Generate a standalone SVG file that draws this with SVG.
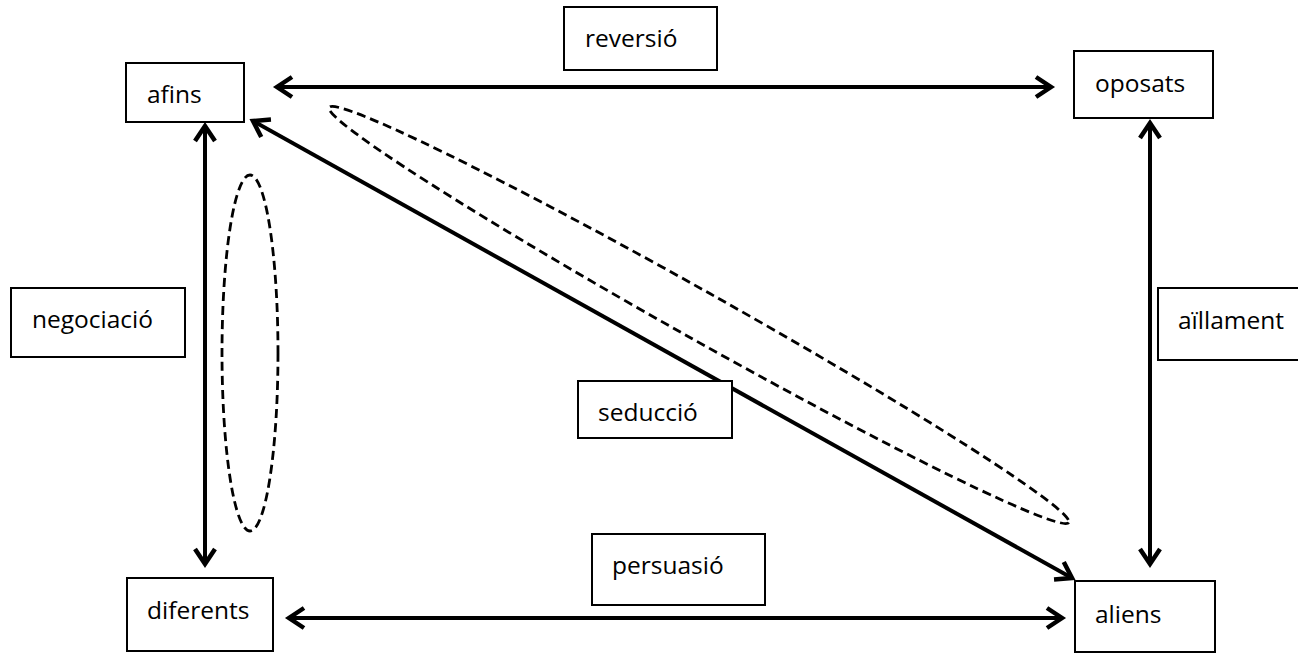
<svg xmlns="http://www.w3.org/2000/svg" width="1298" height="653" viewBox="0 0 1298 653">
<style>
.box{fill:#fff;stroke:#000;stroke-width:2}
.lbl{font-family:"Open Sans","Liberation Sans",sans-serif;font-size:24.5px;fill:#000}
.arr{stroke:#000;stroke-width:4;fill:none}
.dash{stroke:#000;stroke-width:2.8;fill:none;stroke-dasharray:9 5}
</style>
<defs>
<marker id="ah" markerUnits="userSpaceOnUse" markerWidth="30" markerHeight="30" refX="0" refY="0" orient="auto-start-reverse" overflow="visible">
<path d="M-15,-10 L0,0 L-15,10" fill="none" stroke="#000" stroke-width="4.5" stroke-linejoin="miter"/>
</marker>
</defs>
<rect width="1298" height="653" fill="#fff"/>
<g id="connectors">
<line class="arr" x1="277" y1="87" x2="1051" y2="87" marker-start="url(#ah)" marker-end="url(#ah)"/>
<line class="arr" x1="289" y1="618" x2="1062" y2="618" marker-start="url(#ah)" marker-end="url(#ah)"/>
<line class="arr" x1="205" y1="126" x2="205" y2="564" marker-start="url(#ah)" marker-end="url(#ah)"/>
<line class="arr" x1="1150" y1="123" x2="1150" y2="564" marker-start="url(#ah)" marker-end="url(#ah)"/>
<line class="arr" x1="253" y1="121" x2="1072" y2="578" marker-start="url(#ah)" marker-end="url(#ah)"/>
<ellipse class="dash" cx="250" cy="353" rx="28" ry="178"/>
<ellipse class="dash" cx="699" cy="315" rx="424" ry="24" transform="rotate(29.3 699 315)"/>
</g>
<g id="reversio"><rect class="box" x="564" y="7" width="153" height="63"/><text class="lbl" x="585" y="47">reversió</text></g>
<g id="afins"><rect class="box" x="126" y="63" width="118" height="59"/><text class="lbl" x="147" y="103">afins</text></g>
<g id="oposats"><rect class="box" x="1074" y="51" width="139" height="67"/><text class="lbl" x="1095" y="92">oposats</text></g>
<g id="negociacio"><rect class="box" x="11" y="288" width="174" height="69"/><text class="lbl" x="32" y="328">negociació</text></g>
<g id="aillament"><rect class="box" x="1158" y="288" width="145" height="72"/><text class="lbl" x="1178" y="329">aïllament</text></g>
<g id="seduccio"><rect class="box" x="578" y="381" width="154" height="57"/><text class="lbl" x="598" y="421">seducció</text></g>
<g id="persuasio"><rect class="box" x="592" y="534" width="173" height="71"/><text class="lbl" x="612" y="574">persuasió</text></g>
<g id="diferents"><rect class="box" x="127" y="578" width="146" height="73"/><text class="lbl" x="147" y="619">diferents</text></g>
<g id="aliens"><rect class="box" x="1075" y="581" width="140" height="71"/><text class="lbl" x="1095" y="623">aliens</text></g>
</svg>
